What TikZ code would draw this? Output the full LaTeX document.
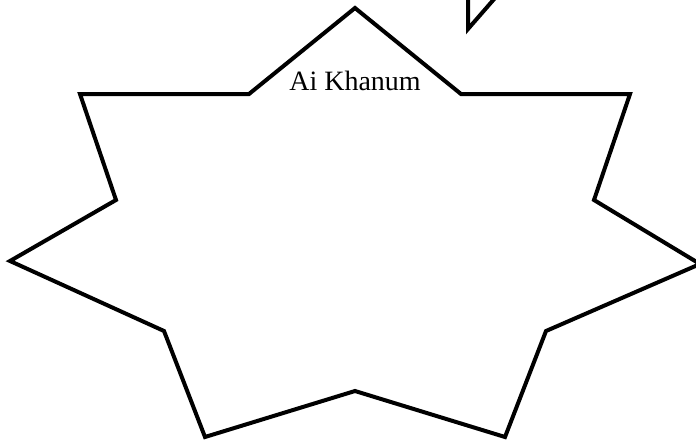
\documentclass[tikz,border=0pt]{standalone}
\usepackage{fontspec}
\setmainfont{Liberation Serif}
\usetikzlibrary{positioning}

\begin{document}
\begin{tikzpicture}[x=1pt, y=-1pt,
  outline/.style={draw=black, line width=4pt, line join=miter},
  sitename/.style={font=\fontsize{28}{32}\selectfont, anchor=base, inner sep=0pt}
]
  \useasboundingbox (0,0) rectangle (696,440);
  \clip (0,0) rectangle (696,440);

  % seven-pointed outline
  \draw[outline] (355,8) -- (461,94) -- (630,94) -- (594,200) -- (700,264)
        -- (546,331) -- (505,437) -- (355,391) -- (205,437) -- (164,331)
        -- (10,261) -- (116,200) -- (80,94) -- (249,94) -- cycle;
  \node[sitename] (site) at (355,90) {Ai Khanum};

  % neighbouring shape, cut off by the frame
  \draw[outline] (468,-10) -- (468,29) -- (502,-10);
\end{tikzpicture}
\end{document}
